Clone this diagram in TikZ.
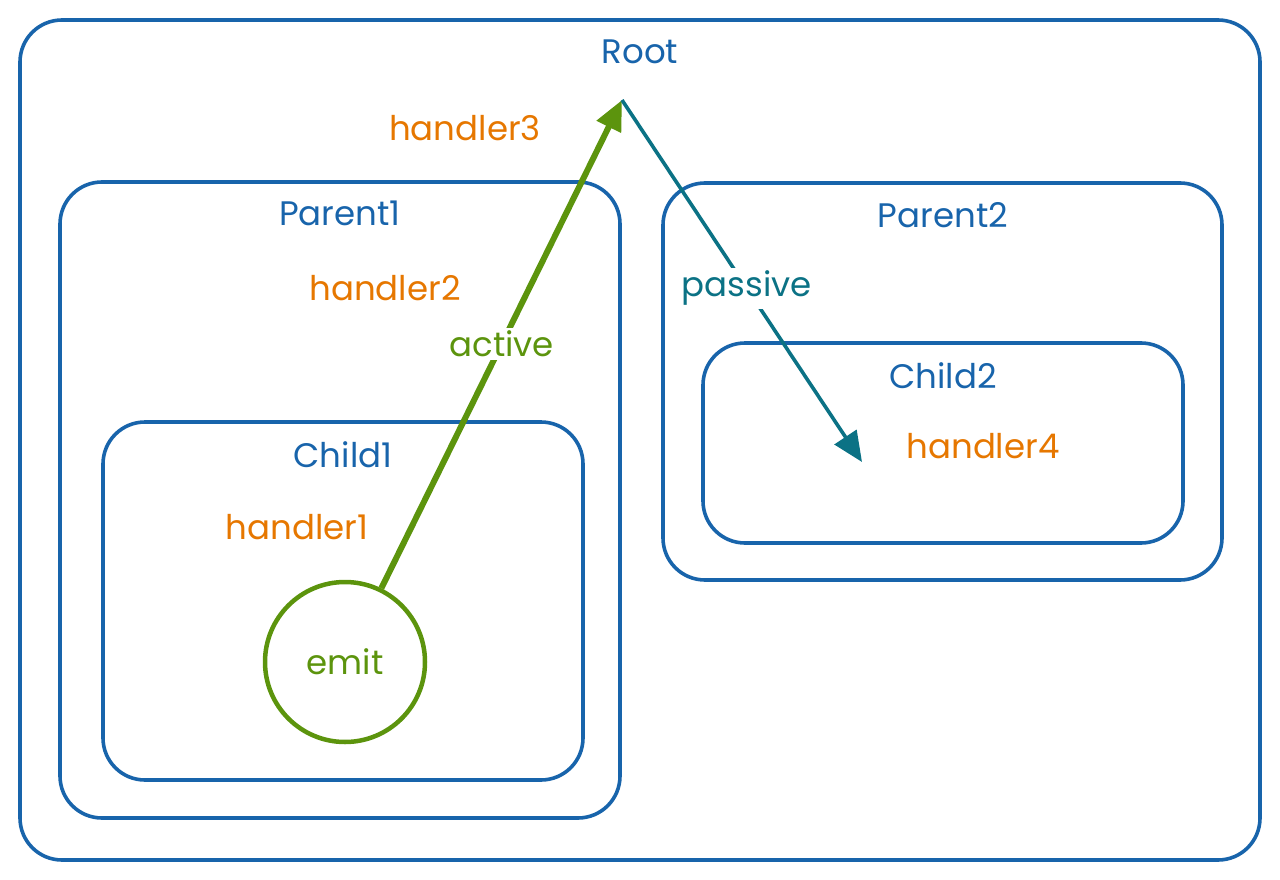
\documentclass[tikz,border=0pt]{standalone}
\usepackage{fontspec}
\setmainfont{Poppins}
\usetikzlibrary{arrows.meta}

\definecolor{frameblue}{HTML}{1864AB}
\definecolor{handorange}{HTML}{E67700}
\definecolor{activegreen}{HTML}{5C940D}
\definecolor{passiveteal}{HTML}{0B7285}

\begin{document}
\begin{tikzpicture}[
    x=1pt, y=-1pt,
    % Style for the nested frames
    frame/.style={
        draw=frameblue,
        line width=3.6pt,
        rounded corners=42pt
    },
    % Style for the frame titles
    title/.style={
        text=frameblue,
        font=\fontsize{34}{40}\selectfont
    },
    % Style for the handler texts
    handler/.style={
        text=handorange,
        font=\fontsize{34}{40}\selectfont
    },
    % Style for the labels on the connections (edges)
    edge_label/.style={
        fill=white,
        inner sep=3pt,
        font=\fontsize{34}{40}\selectfont
    }
]
\useasboundingbox (0,0) rectangle (1280,880);

% 1. The nested frames
\draw[frame] (20,20) rectangle (1260,860);
\draw[frame] (60,182) rectangle (620,818);
\draw[frame] (103,422) rectangle (583,780);
\draw[frame] (663,183) rectangle (1222,580);
\draw[frame] (703,343) rectangle (1183,543);

% 2. Titles and handlers
\node[title] (root) at (640,52) {Root};
\node[title] (parent1) at (340,213) {Parent1};
\node[title] (child1) at (343,455) {Child1};
\node[title] (parent2) at (943,215) {Parent2};
\node[title] (child2) at (943,376) {Child2};

\node[handler] (handler3) at (465,128) {handler3};
\node[handler] (handler2) at (385,288) {handler2};
\node[handler] (handler1) at (297,527) {handler1};
\node[handler] (handler4) at (983,446) {handler4};

\node[circle, draw=activegreen, line width=4.5pt, minimum size=160pt,
      text=activegreen, font=\fontsize{34}{40}\selectfont] (emit) at (345,662) {emit};

% 3. The propagation arrows
\coordinate (top) at (622,100);
\coordinate (target) at (862,462);

\draw[activegreen, line width=6pt, -{Triangle[length=30pt,width=26pt]}] (emit) -- (top)
    node[edge_label, pos=0.5, text=activegreen] {active};

\draw[passiveteal, line width=3.6pt, -{Triangle[length=30pt,width=26pt]}] (top) -- (target)
    node[edge_label, pos=0.52, text=passiveteal] {passive};

\end{tikzpicture}
\end{document}
